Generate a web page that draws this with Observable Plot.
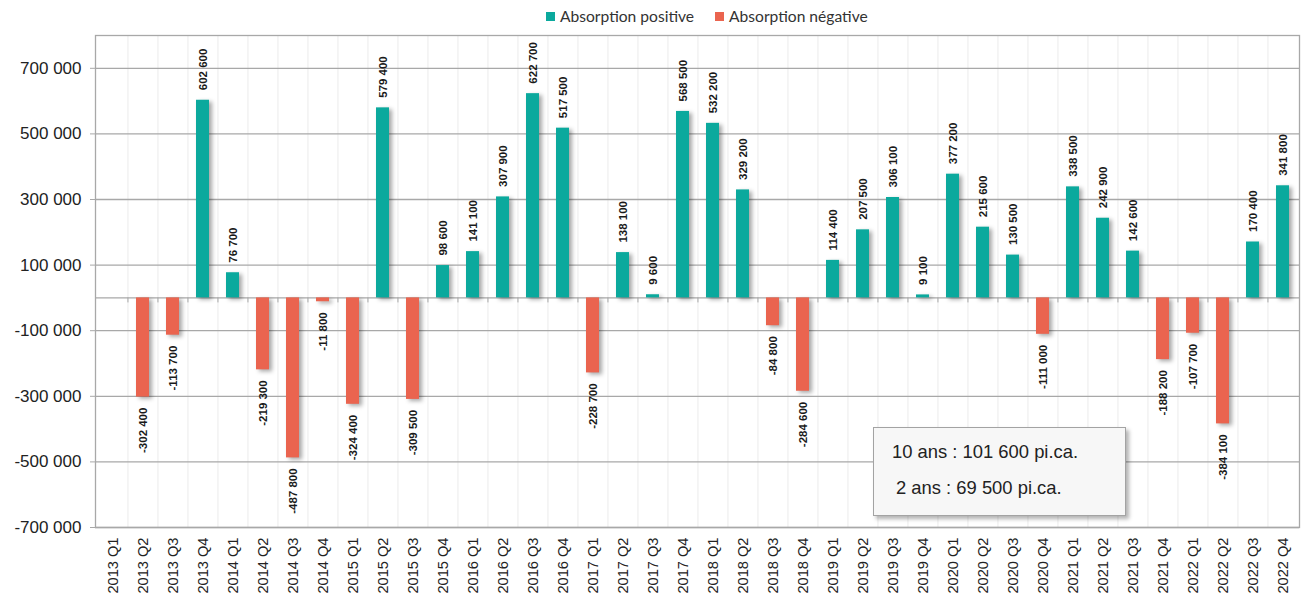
<!DOCTYPE html>
<html>
<head>
<meta charset="utf-8">
<script src="https://cdn.jsdelivr.net/npm/d3@7"></script>
<script src="https://cdn.jsdelivr.net/npm/@observablehq/plot@0.6"></script>
<style>
  html, body { margin: 0; padding: 0; background: #fff; }
  #wrap { position: relative; width: 1302px; height: 599px; font-family: "Liberation Sans", Arial, sans-serif; }
  #chart svg, #chart svg text, #chart svg g { font-family: "Liberation Sans", Arial, sans-serif !important; }
  #legend { position: absolute; top: 7px; left: 546px; display: flex; align-items: center; font-family: Lato, "Open Sans", sans-serif; font-size: 15.6px; color: #333; }
  #legend .sw { width: 9px; height: 9px; display: inline-block; margin-right: 5px; }
  #legend .item { display: flex; align-items: center; margin-right: 21px; }
  #note { position: absolute; left: 873px; top: 427px; width: 251px; height: 87px; background: #f7f7f7; border: 1px solid #a3a3a3; box-shadow: 3px 3px 4px rgba(0,0,0,0.3); font-family: "Liberation Sans", Arial, sans-serif; font-size: 18.4px; color: #222; }
  #note div { position: absolute; white-space: nowrap; }
</style>
</head>
<body>
<div id="wrap">
  <div id="chart"></div>
  <div id="legend"></div>
  <div id="note"></div>
</div>
<script>
// ---- data ----
const quarters = [
  "2013 Q1","2013 Q2","2013 Q3","2013 Q4",
  "2014 Q1","2014 Q2","2014 Q3","2014 Q4",
  "2015 Q1","2015 Q2","2015 Q3","2015 Q4",
  "2016 Q1","2016 Q2","2016 Q3","2016 Q4",
  "2017 Q1","2017 Q2","2017 Q3","2017 Q4",
  "2018 Q1","2018 Q2","2018 Q3","2018 Q4",
  "2019 Q1","2019 Q2","2019 Q3","2019 Q4",
  "2020 Q1","2020 Q2","2020 Q3","2020 Q4",
  "2021 Q1","2021 Q2","2021 Q3","2021 Q4",
  "2022 Q1","2022 Q2","2022 Q3","2022 Q4"
];
const absorption = [
  null, -302400, -113700, 602600,
  76700, -219300, -487800, -11800,
  -324400, 579400, -309500, 98600,
  141100, 307900, 622700, 517500,
  -228700, 138100, 9600, 568500,
  532200, 329200, -84800, -284600,
  114400, 207500, 306100, 9100,
  377200, 215600, 130500, -111000,
  338500, 242900, 142600, -188200,
  -107700, -384100, 170400, 341800
];
const seriesNames = ["Absorption positive", "Absorption négative"];
const seriesColors = ["#0ba99d", "#ea644f"];
const yTicks = [-700000, -500000, -300000, -100000, 100000, 300000, 500000, 700000];
const yDomain = [-700000, 800000];
const noteLines = ["10 ans : 101 600 pi.ca.", "2 ans : 69 500 pi.ca."];

// ---- build ----
const rows = quarters.map((q, i) => ({q, v: absorption[i]})).filter(d => d.v !== null);
const fmt = d3.formatLocale({decimal: ".", thousands: " ", grouping: [3], currency: ["", ""], minus: "-"}).format(",");

const W = 1302, H = 599, mL = 95, mR = 3, mT = 35, mB = 72;
const step = (W - mL - mR) / quarters.length;
const grid = "#a8a8a8";

const chart = Plot.plot({
  width: W, height: H,
  marginLeft: mL, marginRight: mR, marginTop: mT, marginBottom: mB,
  style: {fontFamily: "Liberation Sans, Arial, sans-serif", background: "#fff", overflow: "visible"},
  x: {type: "band", domain: quarters, paddingInner: 0.57, paddingOuter: 0.285, label: null},
  y: {domain: yDomain, label: null},
  marks: [
    Plot.ruleX(quarters.slice(1), {x: d => d, dx: -step / 2, stroke: "#ebebeb", strokeWidth: 1}),
    Plot.ruleY(yTicks, {stroke: grid, strokeWidth: 1.3}),
    Plot.ruleY([0], {stroke: grid, strokeWidth: 1.3}),
    Plot.ruleX(quarters.slice(1), {x: d => d, y1: 0, y2: 0, dx: -step / 2, insetTop: 5, stroke: grid, strokeWidth: 1}),
    Plot.frame({stroke: grid, strokeWidth: 1.3}),
    Plot.barY(rows, {x: "q", y: "v", fill: d => d.v >= 0 ? seriesColors[0] : seriesColors[1]}),
    Plot.text(rows.filter(d => d.v >= 0), {x: "q", y: "v", text: d => fmt(d.v), rotate: -90, textAnchor: "start", dy: -10, fontSize: 11.5, fontWeight: "bold", fill: "#1a1a1a"}),
    Plot.text(rows.filter(d => d.v < 0), {x: "q", y: "v", text: d => fmt(d.v), rotate: -90, textAnchor: "end", dy: 10.5, fontSize: 11.5, fontWeight: "bold", fill: "#1a1a1a"}),
    Plot.axisY({ticks: yTicks, tickFormat: fmt, tickSize: 5, tickPadding: 9, fontSize: 17, stroke: grid, color: "#222"}),
    Plot.axisX({tickRotate: -90, tickSize: 0, tickPadding: 10, fontSize: 14.6, color: "#222"})
  ]
});
chart.style.display = "block";
document.getElementById("chart").appendChild(chart);

chart.querySelectorAll('g[aria-label="bar"]').forEach(g => {
  g.style.filter = "drop-shadow(3px 2px 2px rgba(0,0,0,0.35))";
});

const legend = document.getElementById("legend");
seriesNames.forEach((n, i) => {
  const it = document.createElement("span");
  it.className = "item";
  const sw = document.createElement("span");
  sw.className = "sw";
  sw.style.background = seriesColors[i];
  it.appendChild(sw);
  it.appendChild(document.createTextNode(n));
  legend.appendChild(it);
});

const note = document.getElementById("note");
noteLines.forEach((t, i) => {
  const d = document.createElement("div");
  d.textContent = t;
  d.style.left = (i === 0 ? 18 : 22) + "px";
  d.style.top = (i === 0 ? 13 : 49) + "px";
  note.appendChild(d);
});
</script>
</body>
</html>
